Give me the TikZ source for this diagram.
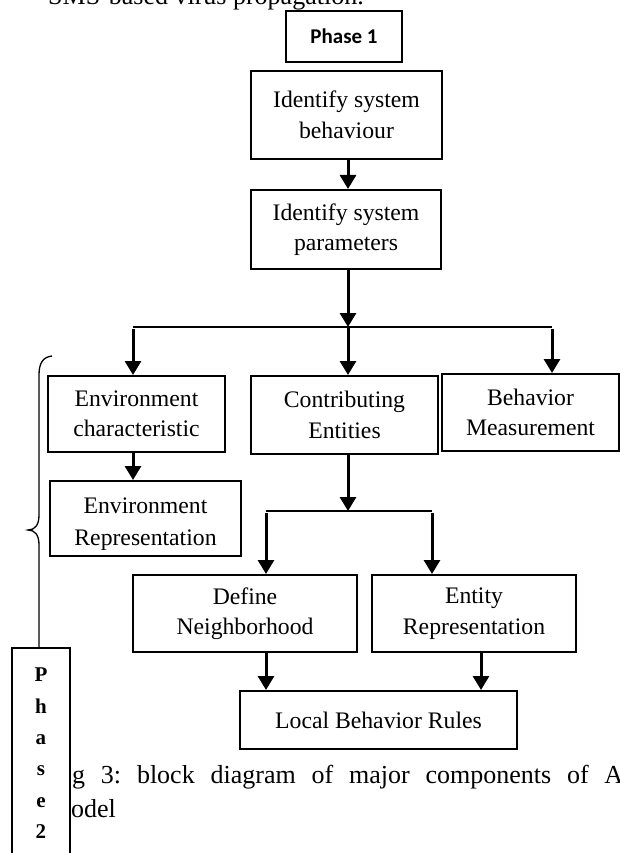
\documentclass[tikz,border=0pt]{standalone}
\usepackage{fontspec}
\setmainfont{Liberation Serif}
\newfontfamily\calibri{Carlito}
\usetikzlibrary{arrows.meta}
\frenchspacing
\begin{document}
\begin{tikzpicture}[x=1pt,y=-1pt,
  box/.style={draw, line width=2pt, fill=white, inner sep=0pt, align=center,
    font=\fontsize{23.7}{30.5}\selectfont},
  arr/.style={line width=3pt, -{Triangle[width=16pt,length=14pt]}},
  link/.style={line width=2.4pt},
  bodytext/.style={anchor=base west, inner sep=0pt, font=\fontsize{26}{30}\selectfont},
]
\clip (0,0) rectangle (620,853);
\fill[white] (0,0) rectangle (620,853);

% cut-off line of body text at the top
\node[bodytext] (toptext) at (48,5) {SMS-based virus propagation.};

% Phase 1 chain
\node[box, minimum width=116, minimum height=51,
      font=\calibri\bfseries\fontsize{21}{25}\selectfont] (p1) at (344,36.5) {Phase 1};
\node[box, minimum width=191, minimum height=88] (beh) at (346.5,115) {Identify system\\behaviour};
\node[box, minimum width=190, minimum height=79] (par) at (346,229.5) {Identify system\\parameters};

\node[box, minimum width=177, minimum height=76] (ec) at (136.5,414) {Environment\\characteristic};
\node[box, minimum width=187, minimum height=78] (ce) at (344.5,415) {Contributing\\Entities};
\node[box, minimum width=177, minimum height=77] (bm) at (530.5,412.5) {Behavior\\Measurement};

\node[box, minimum width=191, minimum height=75] (er) at (145.5,518.5) {};
\begin{scope}
  \clip (51,482) rectangle (240,549.5);
  \node[align=center, inner sep=0pt, font=\fontsize{23.7}{32}\selectfont] (ertext) at (145.5,524)
    {Environment\\Representation};
\end{scope}

\node[box, minimum width=224, minimum height=77] (dn) at (245,613.5) {Define\\Neighborhood};
\node[box, minimum width=204, minimum height=77] (eer) at (474,613.5) {Entity\\Representation};
\node[box, minimum width=277, minimum height=58] (lbr) at (378.5,720) {Local Behavior Rules};

% connectors
\coordinate (ax) at (348,0);
\coordinate (ex) at (481,0);
\coordinate (hl) at (133,327);
\coordinate (hm) at (348,327);
\coordinate (hr) at (552,327);
\coordinate (j2) at (348,511);
\coordinate (j2l) at (266,511);
\coordinate (j2r) at (432,511);

\draw[arr] (ax |- beh.south) -- (ax |- par.north);
\draw[link] (hl) -- (hr);
\draw[arr] (ax |- par.south) -- (hm);
\draw[arr] ([yshift=-1.5]hl) -- (hl |- ec.north);
\draw[arr] (hm) -- (hm |- ce.north);
\draw[arr] ([yshift=-1.5]hr) -- (hr |- bm.north);
\draw[arr] (hl |- ec.south) -- (hl |- er.north);
\draw[arr] (hm |- ce.south) -- (j2);
\draw[link] (j2l) -- (j2r);
\draw[arr] ([yshift=-1.5]j2l) -- (j2l |- dn.north);
\draw[arr] ([yshift=-1.5]j2r) -- (j2r |- eer.north);
\draw[arr] (j2l |- dn.south) -- (j2l |- lbr.north);
\draw[arr] (ex |- eer.south) -- (ex |- lbr.north);

% caption text (partly hidden behind the Phase 2 box)
\node[bodytext] (cap1) at (72,783) {\makebox[551pt][s]{g 3: block diagram of major components of A}};
\node[bodytext] (cap2) at (71,817) {odel};

% Phase 2 box and brace
\node[draw, line width=2pt, fill=white, anchor=north, minimum width=58, inner xsep=0pt,
      inner ysep=20pt, align=center, font=\bfseries\fontsize{21}{31.4}\selectfont]
      (p2) at (41,647) {P\\h\\a\\s\\e\\2};
\coordinate (bx) at (39,0);
\draw[line width=1.3pt] (52,356) .. controls (43,357) and (39,363) .. (39,375)
  -- (39,515) .. controls (39,525) and (35,530) .. (28,530)
  .. controls (35,530) and (39,535) .. (39,545) -- (p2.north -| bx);
\end{tikzpicture}
\end{document}
